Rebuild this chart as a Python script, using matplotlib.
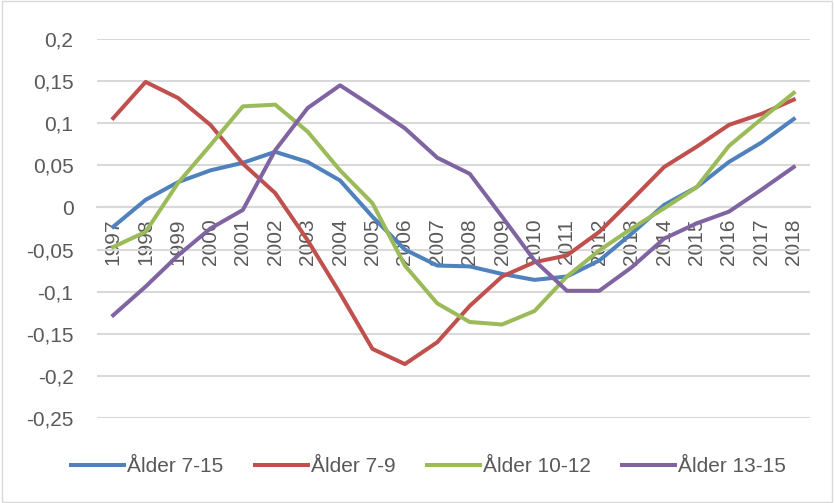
import matplotlib.pyplot as plt
import matplotlib.patches as mpatches

plt.rcParams["font.family"] = ["Liberation Sans", "DejaVu Sans"]

years = [str(y) for y in range(1997, 2019)]

alder_7_15 = [-0.023, 0.009, 0.030, 0.044, 0.053, 0.066, 0.054, 0.032, -0.011, -0.050,
              -0.069, -0.070, -0.079, -0.086, -0.082, -0.063, -0.031, 0.003, 0.024, 0.054,
              0.077, 0.105]
alder_7_9 = [0.106, 0.149, 0.130, 0.098, 0.052, 0.017, -0.039, -0.102, -0.168, -0.186,
             -0.160, -0.117, -0.082, -0.065, -0.057, -0.029, 0.009, 0.048, 0.072, 0.098,
             0.111, 0.128]
alder_10_12 = [-0.047, -0.029, 0.029, 0.074, 0.120, 0.122, 0.090, 0.044, 0.005, -0.069,
               -0.114, -0.136, -0.139, -0.123, -0.082, -0.051, -0.025, -0.001, 0.024, 0.073,
               0.105, 0.136]
alder_13_15 = [-0.128, -0.094, -0.057, -0.025, -0.003, 0.068, 0.118, 0.145, 0.120, 0.094,
               0.059, 0.040, -0.011, -0.063, -0.099, -0.099, -0.071, -0.037, -0.019, -0.005,
               0.021, 0.048]

series = [
    ("Ålder 7-15", alder_7_15, "#4F81BD"),
    ("Ålder 7-9", alder_7_9, "#C0504D"),
    ("Ålder 10-12", alder_10_12, "#9BBB59"),
    ("Ålder 13-15", alder_13_15, "#8064A2"),
]

yticks = [0.2, 0.15, 0.1, 0.05, 0, -0.05, -0.1, -0.15, -0.2, -0.25]
ytick_labels = ["0,2", "0,15", "0,1", "0,05", "0", "-0,05", "-0,1", "-0,15", "-0,2", "-0,25"]

fig = plt.figure(figsize=(8.34, 5.03), dpi=100)
ax = fig.add_axes([0.1163, 0.169, 0.8549, 0.7535])

x = list(range(len(years)))
for label, vals, color in series:
    ax.plot(x, vals, color=color, lw=2.9, label=label, solid_joinstyle="round", zorder=3)

ax.set_xlim(-0.5, len(years) - 0.5)
ax.set_ylim(-0.25, 0.2)

ax.grid(axis="y", color="#D9D9D9", lw=1.5, zorder=0)
ax.set_axisbelow(True)
for side in ["top", "right", "left"]:
    ax.spines[side].set_visible(False)
ax.spines["bottom"].set_position(("data", 0))
ax.spines["bottom"].set_color("#D9D9D9")
ax.spines["bottom"].set_linewidth(1.5)

# ticks after moving the spine (moving it resets the tick labels)
ax.set_yticks(yticks)
ax.set_yticklabels(ytick_labels)
ax.set_xticks(x)
ax.set_xticklabels(years)
ax.tick_params(axis="both", length=0, colors="#595959", labelsize=15)
ax.tick_params(axis="y", pad=17)
ax.tick_params(axis="x", pad=8, labelrotation=90)

ax.legend(loc="center", bbox_to_anchor=(0.514, 0.072), bbox_transform=fig.transFigure,
          ncol=4, frameon=False, fontsize=15, handlelength=2.55, handletextpad=0.15,
          columnspacing=1.5, labelcolor="#595959")

fig.patches.append(mpatches.Rectangle((0.002, 0.002), 0.996, 0.996, transform=fig.transFigure,
                                      fill=False, edgecolor="#D9D9D9", lw=1))

fig.savefig("out.png", dpi=100)
